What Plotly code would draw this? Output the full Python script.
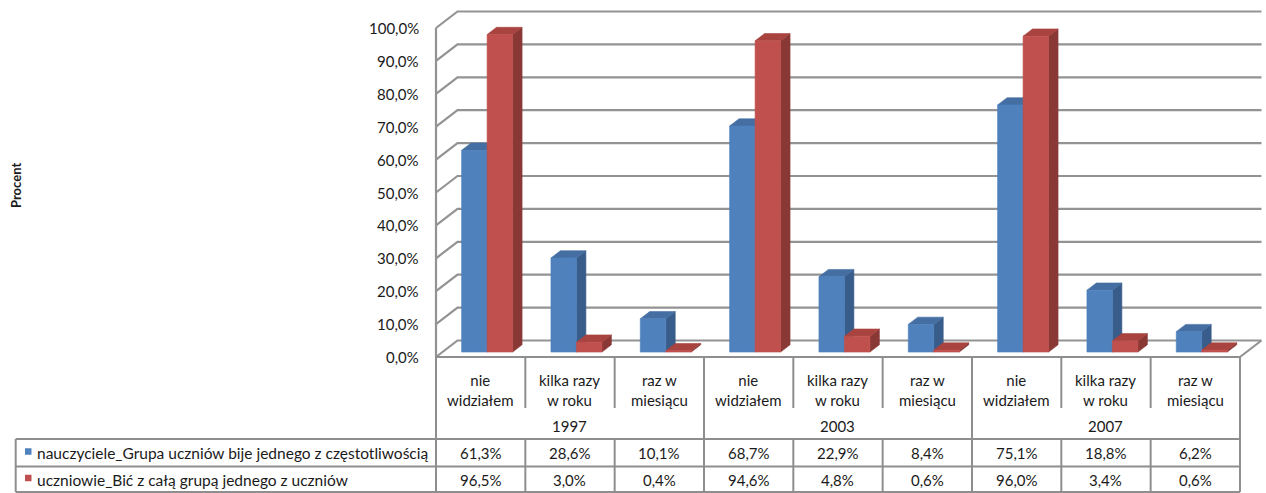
import plotly.graph_objects as go

# ---- data -------------------------------------------------------------
years = ["1997", "2003", "2007"]
answers = ["nie<br>widziałem", "kilka razy<br>w roku", "raz w<br>miesiącu"]
series_names = [
    "nauczyciele_Grupa uczniów bije jednego z częstotliwością",
    "uczniowie_Bić z całą grupą jednego z uczniów",
]
teachers = [61.3, 28.6, 10.1, 68.7, 22.9, 8.4, 75.1, 18.8, 6.2]
students = [96.5, 3.0, 0.4, 94.6, 4.8, 0.6, 96.0, 3.4, 0.6]
y_ticks = [0, 10, 20, 30, 40, 50, 60, 70, 80, 90, 100]

categories = [a for _ in years for a in answers]
series_values = [teachers, students]

# ---- styling / geometry -------------------------------------------------
FONT = "Lato, 'Liberation Sans', sans-serif"
FS = 15
TXT = "#1a1a1a"
GRID = "#939393"
TABLE_LINE = "#8e8e8e"
COLORS = [
    dict(front="#4F81BD", side="#385D8A", top="#456FA3"),
    dict(front="#C0504D", side="#8A3836", top="#A8433F"),
]

W, H = 1266, 493
ML, MR, MT, MB = 426, 0, 4, 125
X0_PX, Y0_PX = 436.0, 357.0      # pixel of data (0, 0) on the front plane
CAT_PX, PCT_PX = 89.33, 3.29     # pixels per category / per percent
DEPTH_X = 21.5 / CAT_PX          # oblique depth of the floor, in data units
DEPTH_Y = 16.5 / PCT_PX
BAR_W = 25.5 / CAT_PX
F0, F1 = 0.30, 0.74              # bar depth span as fraction of floor depth

N = len(categories)
X_RANGE = [(ML - X0_PX) / CAT_PX, (W - MR - X0_PX) / CAT_PX]
Y_RANGE = [(Y0_PX - (H - MB)) / PCT_PX, (Y0_PX - MT) / PCT_PX]


def xpx(xd):
    return X0_PX + xd * CAT_PX


def paper_x(px):
    return (px - ML) / (W - ML - MR)


def paper_y(py):
    return (H - MB - py) / (H - MB - MT)


fig = go.Figure()


def poly(xs, ys, color):
    fig.add_trace(go.Scatter(
        x=xs + [xs[0]], y=ys + [ys[0]], mode="lines", fill="toself",
        fillcolor=color, line=dict(color=color, width=0.6),
        hoverinfo="skip", showlegend=False,
    ))


def line(xs, ys, color=GRID, width=2.2):
    fig.add_trace(go.Scatter(
        x=xs, y=ys, mode="lines", line=dict(color=color, width=width),
        hoverinfo="skip", showlegend=False,
    ))


# walls: side-wall diagonals + back-wall gridlines
for v in y_ticks:
    line([0, DEPTH_X, N + DEPTH_X], [v, v + DEPTH_Y, v + DEPTH_Y])
line([0, 0], [0, y_ticks[-1]])                       # front axis edge
line([N, N + DEPTH_X], [0, DEPTH_Y])                 # floor right edge

# 3-D columns, drawn left to right
for i in range(N):
    for s, vals in enumerate(series_values):
        v = vals[i]
        c = COLORS[s]
        xl = i + 0.5 - BAR_W + s * BAR_W
        xr = xl + BAR_W
        ox0, oy0 = F0 * DEPTH_X, F0 * DEPTH_Y
        ox1, oy1 = F1 * DEPTH_X, F1 * DEPTH_Y
        # right side face
        poly([xr + ox0, xr + ox1, xr + ox1, xr + ox0],
             [oy0, oy1, v + oy1, v + oy0], c["side"])
        # top face
        poly([xl + ox0, xr + ox0, xr + ox1, xl + ox1],
             [v + oy0, v + oy0, v + oy1, v + oy1], c["top"])
        # front face
        poly([xl + ox0, xr + ox0, xr + ox0, xl + ox0],
             [oy0, oy0, v + oy0, v + oy0], c["front"])

# y tick labels
annotations = []
for v in y_ticks:
    annotations.append(dict(
        x=0, y=v, xref="x", yref="y", xanchor="right", yanchor="middle",
        xshift=-15, showarrow=False, text=f"{v:.1f}".replace(".", ",") + "%",
        font=dict(family=FONT, size=FS, color=TXT),
    ))

# axis title
annotations.append(dict(
    x=paper_x(16), y=paper_y(186), xref="paper", yref="paper",
    xanchor="center", yanchor="middle",
    text="<b>Procent</b>", textangle=-90, showarrow=False,
    font=dict(family=FONT, size=13, color=TXT),
))

# ---- data table below the chart ----------------------------------------
ROW_TOP, CAT_BOTTOM, ROW1_TOP, ROW2_TOP, ROW_BOTTOM = 357, 408, 439, 466.5, 492
LEFT_PX = 15.7
shapes = []


def tline(x0, y0, x1, y1):
    shapes.append(dict(
        type="line", xref="paper", yref="paper",
        x0=paper_x(x0), y0=paper_y(y0), x1=paper_x(x1), y1=paper_y(y1),
        line=dict(color=TABLE_LINE, width=2), layer="above",
    ))


right_px = xpx(N)
tline(xpx(0), ROW_TOP, right_px, ROW_TOP)
for py in (ROW1_TOP, ROW2_TOP, ROW_BOTTOM):
    tline(LEFT_PX, py, right_px, py)
tline(LEFT_PX, ROW1_TOP, LEFT_PX, ROW_BOTTOM)
for i in range(N + 1):
    xb = xpx(i)
    if i % len(answers) == 0:
        tline(xb, ROW_TOP, xb, ROW_BOTTOM)
    else:
        tline(xb, ROW_TOP, xb, CAT_BOTTOM)
        tline(xb, ROW1_TOP, xb, ROW_BOTTOM)

for i, cat in enumerate(categories):
    annotations.append(dict(
        x=i + 0.5, y=paper_y(390), xref="x", yref="paper", text=cat,
        xanchor="center", yanchor="middle", showarrow=False, align="center",
        font=dict(family=FONT, size=FS, color=TXT),
    ))
for g, yr in enumerate(years):
    annotations.append(dict(
        x=g * len(answers) + len(answers) / 2, y=paper_y(426), xref="x",
        yref="paper", xanchor="center", yanchor="middle", text=yr,
        showarrow=False, font=dict(family=FONT, size=FS, color=TXT),
    ))

row_mid = [(ROW1_TOP + ROW2_TOP) / 2 + 0.5, (ROW2_TOP + ROW_BOTTOM) / 2 + 0.5]
for s, (name, vals) in enumerate(zip(series_names, series_values)):
    ym = row_mid[s]
    shapes.append(dict(
        type="rect", xref="paper", yref="paper",
        x0=paper_x(25), x1=paper_x(31.5),
        y0=paper_y(ym - 5), y1=paper_y(ym + 1.5),
        fillcolor=COLORS[s]["front"], line=dict(width=0), layer="above",
    ))
    annotations.append(dict(
        x=paper_x(35), y=paper_y(ym), xref="paper", yref="paper",
        xanchor="left", yanchor="middle", text=name, showarrow=False,
        font=dict(family=FONT, size=15.5, color=TXT),
    ))
    for i, v in enumerate(vals):
        annotations.append(dict(
            x=i + 0.5, y=paper_y(ym), xref="x", yref="paper",
            xanchor="center", yanchor="middle",
            text=f"{v:.1f}".replace(".", ",") + "%", showarrow=False,
            font=dict(family=FONT, size=FS, color=TXT),
        ))

fig.update_layout(
    width=W, height=H,
    margin=dict(l=ML, r=MR, t=MT, b=MB, pad=0),
    paper_bgcolor="white", plot_bgcolor="white",
    xaxis=dict(range=X_RANGE, visible=False, fixedrange=True),
    yaxis=dict(range=Y_RANGE, visible=False, fixedrange=True),
    shapes=shapes, annotations=annotations,
    showlegend=False,
)

fig.write_html("out.html")
